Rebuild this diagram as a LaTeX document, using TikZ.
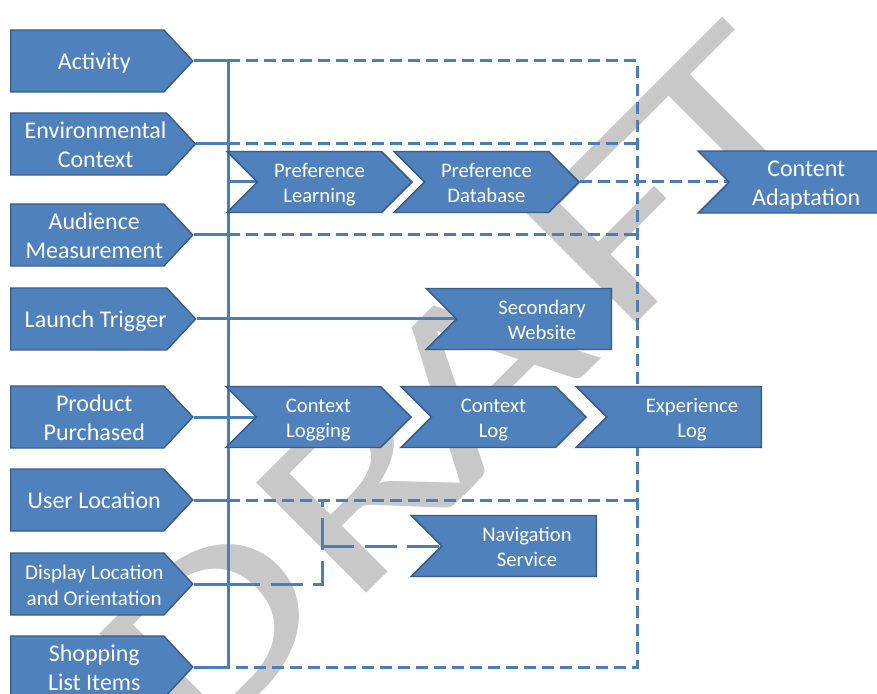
\documentclass[tikz,border=0pt]{standalone}
\usepackage{fontspec}
\setmainfont{Carlito}
\usetikzlibrary{shapes.symbols,backgrounds}

\definecolor{boxblue}{HTML}{4F81BD}
\definecolor{boxedge}{HTML}{385D8A}
\definecolor{wireblue}{HTML}{4A7EBB}
\definecolor{draftgray}{HTML}{C8C8C8}

% text lines of a box, pushed a little to the right and down
\def\boxpush{0pt}
\newcommand{\stack}[1]{\hspace*{\boxpush}\raisebox{-2.25pt}[\height][\depth]{\begin{tabular}{@{}c@{}}#1\end{tabular}}}

\tikzset{
  push/.style={execute at begin node={\def\boxpush{#1}}},
  inbox/.style={signal, signal to=east, signal pointer angle=94,
    fill=boxblue, draw=boxedge, line width=1.1pt, text=white,
    minimum width=136.5pt, minimum height=46.5pt, inner sep=0pt,
    push=10.5pt, font=\fontsize{18}{21.5}\selectfont},
  chevbox/.style={signal, signal from=west, signal to=east, signal pointer angle=90,
    fill=boxblue, draw=boxedge, line width=1.1pt, text=white,
    minimum width=138.75pt, minimum height=45.75pt, inner sep=0pt,
    font=\fontsize{15.5}{18.5}\selectfont},
  notchbox/.style={chevbox, signal to=nowhere, push=12pt},
  wire/.style={draw=wireblue, line width=2.25pt},
  dashwire/.style={wire, dash pattern=on 9pt off 4.5pt},
  longdash/.style={wire, dash pattern=on 24pt off 8pt},
  draftletter/.style={text=draftgray, rotate=45, xscale=1.4, inner sep=0pt,
    font=\fontsize{182}{182}\selectfont},
}

\begin{document}
\begin{tikzpicture}[x=0.75pt,y=0.75pt]
  \useasboundingbox (0,0) rectangle (877,693);

  % Inputs
  \node[inbox, anchor=west] (act) at (10,632) {\stack{Activity}};
  \node[inbox, anchor=west] (env) at (10,549) {\stack{Environmental\\Context}};
  \node[inbox, anchor=west] (aud) at (10,458) {\stack{Audience\\Measurement}};
  \node[inbox, anchor=west] (lau) at (10,374) {\stack{Launch Trigger}};
  \node[inbox, anchor=west] (pro) at (10,276) {\stack{Product\\Purchased}};
  \node[inbox, anchor=west] (usr) at (10,193) {\stack{User Location}};
  \node[inbox, anchor=west, font=\fontsize{15.8}{19.5}\selectfont] (dis) at (10,109) {\stack{Display Location\\and Orientation}};
  \node[inbox, anchor=west] (shp) at (10,26) {\stack{Shopping\\List Items}};

  % Preference chain
  \node[chevbox, anchor=east] (plearn) at (413,511) {\stack{Preference\\Learning}};
  \node[chevbox, anchor=east] (pdb) at (580,511) {\stack{Preference\\Database}};
  \node[notchbox, anchor=east, push=0pt, minimum height=46.5pt, font=\fontsize{18}{21.5}\selectfont] (adapt) at (884,511) {\stack{Content\\Adaptation}};

  % Secondary website
  \node[notchbox, anchor=east] (web) at (612,374) {\stack{Secondary\\Website}};

  % Context chain
  \node[chevbox, anchor=east] (clog) at (412,276) {\stack{Context\\Logging}};
  \node[chevbox, anchor=east] (cl) at (587,276) {\stack{Context\\Log}};
  \node[notchbox, anchor=east] (exp) at (762,276) {\stack{Experience\\Log}};

  % Navigation
  \node[notchbox, anchor=east] (nav) at (597,147) {\stack{Navigation\\Service}};

  \begin{pgfonlayer}{background}
    % Watermark
    \foreach \ch/\px/\py in {D/212/632, R/360/490, A/478/372, F/621/229, T/722/128}
      \node[draftletter] at (\px,693-\py) {\ch};

    % Bus
    \coordinate (bustop) at (228,632);
    \coordinate (busbot) at (228,26);
    \coordinate (ne) at (637,632);
    \coordinate (se) at (637,26);
    \coordinate (kink) at (322,193);
    \draw[wire] (bustop) -- (busbot);
    \foreach \n in {act,env,aud,usr,dis,shp}
      \draw[wire] (\n.east) -- (\n.east -| bustop);

    % Dashed frame
    \draw[dashwire] (act.east -| bustop) -- (ne) -- (se) -- (shp.east -| bustop);
    \draw[dashwire] (env.east -| bustop) -- (env.east -| ne);
    \draw[dashwire] (aud.east -| bustop) -- (aud.east -| ne);
    \draw[dashwire] (usr.east -| bustop) -- (usr.east -| ne);
    \draw[dashwire] (pdb.east) -- (adapt.center);

    % Solid feeds
    \draw[wire] (plearn.center -| bustop) -- (plearn.center);
    \draw[wire] (lau.east) -- (web.center);
    \draw[wire] (pro.east) -- (clog.center);

    % Display to navigation
    \draw[longdash] (dis.east -| bustop) -- (dis.east -| kink) -- (kink);
    \draw[longdash] (nav.center -| kink) -- (nav.center);
  \end{pgfonlayer}
\end{tikzpicture}
\end{document}
